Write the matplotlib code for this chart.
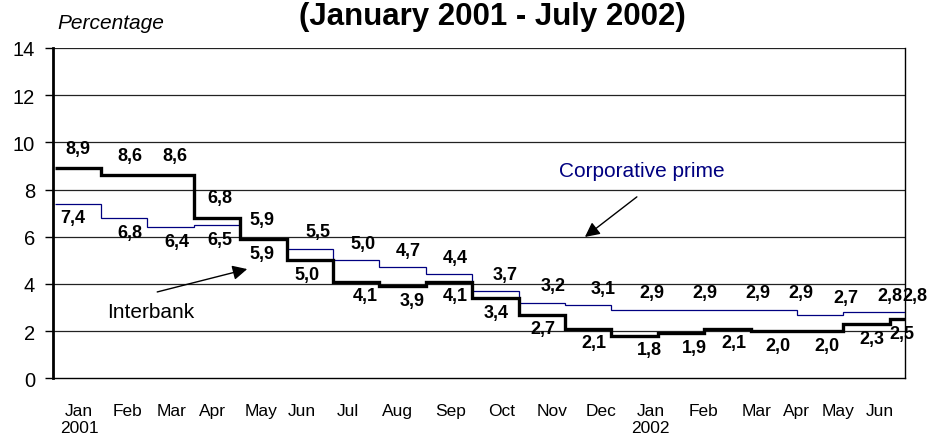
import numpy as np
import matplotlib
matplotlib.use("Agg")
import matplotlib.pyplot as plt

plt.rcParams['font.family'] = ['Liberation Sans', 'DejaVu Sans']

# ---- data ----
months = ["Jan", "Feb", "Mar", "Apr", "May", "Jun", "Jul", "Aug", "Sep", "Oct", "Nov", "Dec",
          "Jan", "Feb", "Mar", "Apr", "May", "Jun"]
years = ["2001", "2002"]
interbank = [8.9, 8.6, 8.6, 6.8, 5.9, 5.0, 4.1, 3.9, 4.1, 3.4, 2.7, 2.1,
             1.8, 1.9, 2.1, 2.0, 2.0, 2.3, 2.5]
corp_prime = [7.4, 6.8, 6.4, 6.5, 5.9, 5.5, 5.0, 4.7, 4.4, 3.7, 3.2, 3.1,
              2.9, 2.9, 2.9, 2.9, 2.7, 2.8, 2.8]
title = "(January 2001 - July 2002)"

# ---- layout (text placement, in data units) ----
month_tick_pos = [0.53, 1.56, 2.53, 3.41, 4.45, 5.33, 6.32, 7.38, 8.54, 9.64, 10.72, 11.78,
                  12.85, 13.99, 15.12, 15.98, 16.88, 17.79]
year_tick_idx = [0, 12]
ib_label_x = [0.50, 1.63, 2.59, 3.56, 4.47, 5.44, 6.69, 7.70, 8.63, 9.51, 10.53, 11.62,
              12.83, 13.78, 14.64, 15.59, 16.65, 17.62, 18.26]
cp_label_x = [0.38, 1.63, 2.64, 3.56, 4.47, 5.68, 6.65, 7.62, 8.63, 9.71, 10.74, 11.82,
              12.87, 14.02, 15.16, 16.09, 17.06, 18.0, 18.54]
n_swap = 5  # first points: interbank labels above, prime below

W, H = 930, 439
fig = plt.figure(figsize=(W / 100, H / 100), dpi=100)
left, right, top, bottom = 53.3, 905, 49, 379.3
ax = fig.add_axes([left / W, (H - bottom) / H, (right - left) / W, (bottom - top) / H])

edges = np.arange(len(interbank) + 1)
ax.stairs(corp_prime, edges, baseline=None, color="#000080", lw=0.9, zorder=3)
ax.stairs(interbank, edges, baseline=None, color="black", lw=2.4, zorder=4)

ax.set_xlim(-0.03, 18.33)
ax.set_ylim(0, 14)
ax.set_yticks(np.arange(0, 15, 2))
ax.tick_params(axis='y', labelsize=14.5, length=6, width=1, pad=7, direction='out')
for y in range(2, 15, 2):
    ax.axhline(y, color="#222222", lw=0.9, zorder=1)

ax.set_xticks(month_tick_pos)
ax.set_xticklabels(months, fontsize=12.5)
ax.tick_params(axis='x', length=0, pad=18)
for yi, idx in zip(years, year_tick_idx):
    ax.text(month_tick_pos[idx], -2.1, yi, ha='center', va='center', fontsize=12.5)

ax.spines['top'].set_visible(False)
ax.spines['left'].set_linewidth(2)
ax.spines['bottom'].set_linewidth(1)
ax.spines['right'].set_linewidth(1)

def fmt(v):
    return f"{v:.1f}".replace('.', ',')

for i, v in enumerate(interbank):
    dy = 0.85 if i < n_swap else -0.6
    ax.text(ib_label_x[i], v + dy, fmt(v), ha='center', va='center',
            fontsize=13, fontweight='bold', zorder=6, clip_on=False)
for i, v in enumerate(corp_prime):
    dy = -0.6 if i < n_swap else 0.72
    ax.text(cp_label_x[i], v + dy, fmt(v), ha='center', va='center',
            fontsize=13, fontweight='bold', zorder=6, clip_on=False)

ax.text(12.66, 8.79, "Corporative prime", color="#000080", fontsize=15,
        ha='center', va='center')
ax.annotate("", xy=(11.43, 5.99), xytext=(12.55, 7.69),
            arrowprops=dict(arrowstyle='-|>', mutation_scale=22, lw=1, color='black',
                            shrinkA=0, shrinkB=0))
ax.text(2.06, 2.85, "Interbank", color="black", fontsize=15, ha='center', va='center')
ax.annotate("", xy=(4.15, 4.63), xytext=(2.21, 3.66),
            arrowprops=dict(arrowstyle='-|>', mutation_scale=22, lw=1, color='black',
                            shrinkA=0, shrinkB=0))

fig.text(492 / W, 1 - 25 / H, title, ha='center', va='baseline',
         fontsize=22.5, fontweight='bold')
fig.text(57 / W, 1 - 29 / H, "Percentage", ha='left', va='baseline',
         fontsize=15, style='italic')

fig.savefig("out.png", dpi=100)
